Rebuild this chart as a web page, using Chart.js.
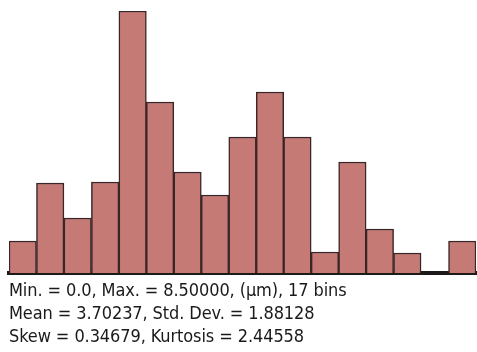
<!DOCTYPE html>
<html>
<head>
<meta charset="utf-8">
<script src="https://cdn.jsdelivr.net/npm/chart.js@4"></script>
<style>
  html, body { margin: 0; padding: 0; background: #fff; }
  #wrap { position: relative; width: 477px; height: 352px; }
  #box { position: absolute; left: 0; top: 0; width: 477px; height: 281px; }
  #stats {
    position: absolute; left: 9px; top: 278px;
    font-family: "DejaVu Sans Condensed", sans-serif;
    font-size: 18px; line-height: 23px; letter-spacing: -0.1px;
    color: #1a1a1a; white-space: nowrap;
  }
</style>
</head>
<body>
<div id="wrap">
  <div id="box"><canvas id="hist"></canvas></div>
  <div id="stats"></div>
</div>
<script>
// 17 bins, 0 .. 8.5 um
const bins = ['0.25','0.75','1.25','1.75','2.25','2.75','3.25','3.75','4.25','4.75','5.25','5.75','6.25','6.75','7.25','7.75','8.25'];
const counts = [32, 90, 55, 91, 262, 171, 101, 78, 136, 181, 136, 21, 111, 44, 20, 0, 32];
const statLines = [
    'Min. = 0.0, Max. = 8.50000, (\u00b5m), 17 bins',
    'Mean = 3.70237, Std. Dev. = 1.88128',
    'Skew = 0.34679, Kurtosis = 2.44558'
];

document.getElementById('stats').innerHTML = statLines.map(s => '<div>' + s + '</div>').join('');

const ctx = document.getElementById('hist').getContext('2d');
new Chart(ctx, {
    type: 'bar',
    data: {
        labels: bins,
        datasets: [{
            data: counts,
            backgroundColor: '#c57a76',
            borderColor: '#3a2626',
            borderWidth: 1.5,
            barPercentage: 1,
            categoryPercentage: 1
        }]
    },
    options: {
        responsive: true,
        maintainAspectRatio: false,
        animation: false,
        layout: { padding: { left: 9, right: 1, top: 11, bottom: 0 } },
        plugins: { legend: { display: false }, tooltip: { enabled: false } },
        scales: {
            x: {
                grid: { display: false },
                ticks: { display: false },
                border: { display: true, color: '#1e1a1a', width: 4 }
            },
            y: {
                display: false,
                min: 0,
                max: 262
            }
        }
    }
});
</script>
</body>
</html>
